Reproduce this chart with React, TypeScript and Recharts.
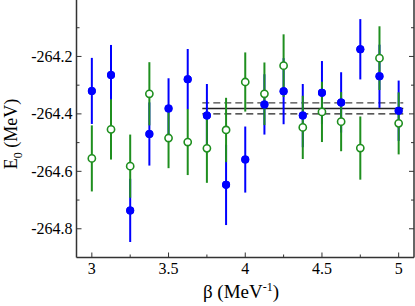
import { ScatterChart, Scatter, XAxis, YAxis, ErrorBar, ReferenceLine, Label } from 'recharts';

// beta grid (MeV^-1)
const beta = [3, 3.125, 3.25, 3.375, 3.5, 3.625, 3.75, 3.875, 4, 4.125, 4.25, 4.375, 4.5, 4.625, 4.75, 4.875, 5];

// blue (filled) series
const blueE0 = [-264.32, -264.265, -264.736, -264.47, -264.381, -264.279, -264.406, -264.647, -264.559, -264.367, -264.321, -264.406, -264.326, -264.36, -264.175, -264.269, -264.389];
const blueErr = [0.115, 0.105, 0.11, 0.11, 0.105, 0.105, 0.11, 0.14, 0.115, 0.105, 0.115, 0.11, 0.11, 0.105, 0.105, 0.11, 0.105];

// green (open) series
const greenE0 = [-264.555, -264.454, -264.582, -264.33, -264.484, -264.498, -264.52, -264.456, -264.289, -264.33, -264.232, -264.447, -264.393, -264.427, -264.519, -264.206, -264.433];
const greenErr = [0.115, 0.105, 0.11, 0.11, 0.105, 0.115, 0.12, 0.112, 0.103, 0.109, 0.109, 0.11, 0.105, 0.103, 0.11, 0.111, 0.108];

// fitted value and band
const fitMean = -264.381;
const fitHigh = -264.362;
const fitLow = -264.4;
const fitFrom = 3.72;
const fitTo = 5.03;

const xTicks = [3, 3.25, 3.5, 3.75, 4, 4.25, 4.5, 4.75, 5];
const xLabels = [3, 3.5, 4, 4.5, 5];
const yTicks = [-264.8, -264.7, -264.6, -264.5, -264.4, -264.3, -264.2, -264.1];
const yLabels = [-264.8, -264.6, -264.4, -264.2];

const blueData = beta.map((b, i) => ({ beta: b, e: blueE0[i], err: blueErr[i] }));
const greenData = beta.map((b, i) => ({ beta: b, e: greenE0[i], err: greenErr[i] }));

const FONT = '"Liberation Serif", "Times New Roman", serif';
const FRAME = '#333';
const BLUE = '#0000ff';
const GREEN = '#1f8f1f';

const isIn = (v: number, list: number[]) => list.some((t) => Math.abs(t - v) < 1e-6);

const BottomTick = (p: any) => {
  const major = isIn(p.payload.value, xLabels);
  return (
    <g>
      <line x1={p.x} x2={p.x} y1={p.y} y2={p.y - (major ? 5 : 3)} stroke={FRAME} strokeWidth={1} />
      {major && (
        <text x={p.x} y={p.y + 16} textAnchor="middle" fontFamily={FONT} fontSize={16} fill="#000">
          {p.payload.value}
        </text>
      )}
    </g>
  );
};

const TopTick = (p: any) => {
  const major = isIn(p.payload.value, xLabels);
  return <line x1={p.x} x2={p.x} y1={p.y} y2={p.y + (major ? 5 : 3)} stroke={FRAME} strokeWidth={1} />;
};

const LeftTick = (p: any) => {
  const major = isIn(p.payload.value, yLabels);
  return (
    <g>
      <line x1={p.x} x2={p.x + (major ? 5 : 3)} y1={p.y} y2={p.y} stroke={FRAME} strokeWidth={1} />
      {major && (
        <text x={p.x - 4} y={p.y + 5.5} textAnchor="end" fontFamily={FONT} fontSize={16} fill="#000">
          {p.payload.value.toFixed(1)}
        </text>
      )}
    </g>
  );
};

const RightTick = (p: any) => {
  const major = isIn(p.payload.value, yLabels);
  return <line x1={p.x} x2={p.x - (major ? 5 : 3)} y1={p.y} y2={p.y} stroke={FRAME} strokeWidth={1} />;
};

const BlueDot = (p: any) => <circle cx={p.cx} cy={p.cy} r={4} fill={BLUE} />;
const GreenDot = (p: any) => <circle cx={p.cx} cy={p.cy} r={3.6} fill="#fff" stroke={GREEN} strokeWidth={1.6} />;

const App = () => {
  return (
    <div style={{ position: 'absolute', left: 0, top: -1 }}>
      <ScatterChart width={415} height={307} margin={{ top: 0, right: 0, bottom: 0, left: 0 }}>
        <XAxis
          xAxisId="b"
          type="number"
          dataKey="beta"
          domain={[2.9, 5.1]}
          allowDataOverflow
          ticks={xTicks}
          tick={BottomTick}
          tickLine={false}
          tickSize={0}
          tickMargin={0}
          height={48.5}
          axisLine={{ stroke: FRAME, strokeWidth: 1.5 }}
        >
          <Label
            content={() => (
              <text x={241} y={299} textAnchor="middle" fontFamily={FONT} fontSize={19} fill="#000">
                β (MeV<tspan dy={-7} fontSize={12}>-1</tspan>
                <tspan dy={7}>)</tspan>
              </text>
            )}
          />
        </XAxis>
        <XAxis
          xAxisId="t"
          orientation="top"
          type="number"
          domain={[2.9, 5.1]}
          allowDataOverflow
          ticks={xTicks}
          tick={TopTick}
          tickLine={false}
          tickSize={0}
          tickMargin={0}
          height={0}
          axisLine={{ stroke: FRAME, strokeWidth: 1.5 }}
        />
        <YAxis
          yAxisId="l"
          type="number"
          dataKey="e"
          domain={[-264.9, -264.0]}
          allowDataOverflow
          ticks={yTicks}
          tick={LeftTick}
          tickLine={false}
          tickSize={0}
          tickMargin={0}
          width={76.5}
          axisLine={{ stroke: FRAME, strokeWidth: 1.5 }}
        >
          <Label
            content={() => (
              <text
                x={17}
                y={135}
                transform="rotate(-90 17 135)"
                textAnchor="middle"
                fontFamily={FONT}
                fontSize={18}
                fill="#000"
              >
                E<tspan dy={5} fontSize={12}>0</tspan>
                <tspan dy={-5}> (MeV)</tspan>
              </text>
            )}
          />
        </YAxis>
        <YAxis
          yAxisId="r"
          orientation="right"
          type="number"
          domain={[-264.9, -264.0]}
          allowDataOverflow
          ticks={yTicks}
          tick={RightTick}
          tickLine={false}
          tickSize={0}
          tickMargin={0}
          width={1}
          axisLine={{ stroke: FRAME, strokeWidth: 1.5 }}
        />

        <ReferenceLine
          xAxisId="b"
          yAxisId="l"
          segment={[{ x: fitFrom, y: fitHigh }, { x: fitTo, y: fitHigh }]}
          stroke="#444"
          strokeWidth={1.3}
          strokeDasharray="7 4"
        />
        <ReferenceLine
          xAxisId="b"
          yAxisId="l"
          segment={[{ x: fitFrom, y: fitLow }, { x: fitTo, y: fitLow }]}
          stroke="#222"
          strokeWidth={1.3}
          strokeDasharray="7 4"
        />
        <ReferenceLine
          xAxisId="b"
          yAxisId="l"
          segment={[{ x: fitFrom, y: fitMean }, { x: fitTo, y: fitMean }]}
          stroke="#222"
          strokeWidth={1.6}
        />

        <Scatter xAxisId="b" yAxisId="l" data={blueData} dataKey="e" shape={BlueDot} isAnimationActive={false}>
          <ErrorBar dataKey="err" direction="y" width={0} stroke={BLUE} strokeWidth={2} isAnimationActive={false} />
        </Scatter>
        <Scatter xAxisId="b" yAxisId="l" data={greenData} dataKey="e" shape={GreenDot} isAnimationActive={false}>
          <ErrorBar dataKey="err" direction="y" width={0} stroke={GREEN} strokeWidth={2} isAnimationActive={false} />
        </Scatter>
        <Scatter xAxisId="b" yAxisId="l" data={blueData} dataKey="e" shape={BlueDot} isAnimationActive={false} />
      </ScatterChart>
    </div>
  );
};

export default App;
